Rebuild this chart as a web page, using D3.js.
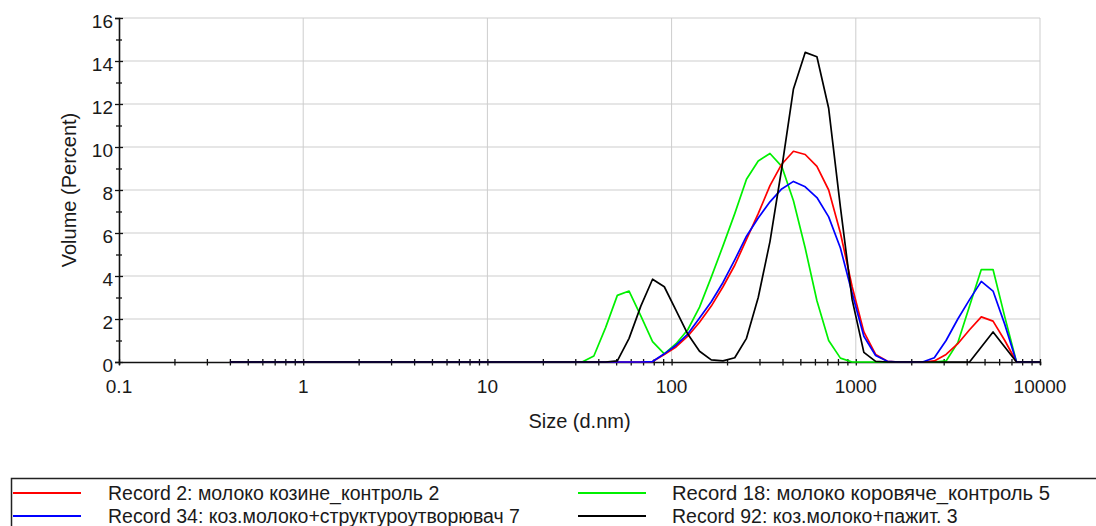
<!DOCTYPE html>
<html>
<head>
<meta charset="utf-8">
<script src="https://cdn.jsdelivr.net/npm/d3@7/dist/d3.min.js"></script>
<style>
  html, body { margin: 0; padding: 0; background: #ffffff; }
  svg { display: block; }
  text { font-family: "Liberation Sans", Arial, sans-serif; fill: #1a1a1a; }
</style>
</head>
<body>
<svg id="chart" width="1096" height="526"></svg>
<script>
// Size classes (d.nm) of the size distribution
const sizes = [
  0.4000, 0.4632, 0.5365, 0.6213, 0.7195, 0.8332, 0.9649, 1.117, 1.294, 1.499,
  1.736, 2.010, 2.328, 2.696, 3.122, 3.615, 4.187, 4.849, 5.615, 6.503,
  7.531, 8.721, 10.10, 11.70, 13.54, 15.69, 18.17, 21.04, 24.36, 28.21,
  32.67, 37.84, 43.82, 50.75, 58.77, 68.06, 78.82, 91.28, 105.7, 122.4,
  141.8, 164.2, 190.1, 220.2, 255.0, 295.3, 342.0, 396.1, 458.7, 531.2,
  615.1, 712.4, 825.0, 955.4, 1106, 1281, 1484, 1718, 1990, 2305,
  2669, 3091, 3580, 4145, 4801, 5560, 6439, 7456, 8635, 10000
];

// Volume (%) per size class
const record2 = [
  0, 0, 0, 0, 0, 0, 0, 0, 0, 0,
  0, 0, 0, 0, 0, 0, 0, 0, 0, 0,
  0, 0, 0, 0, 0, 0, 0, 0, 0, 0,
  0, 0, 0, 0, 0, 0, 0.02, 0.35, 0.7, 1.2,
  1.85, 2.6, 3.5, 4.5, 5.7, 6.9, 8.2, 9.2, 9.8, 9.65,
  9.1, 8.0, 6.0, 3.5, 1.4, 0.35, 0.03, 0, 0, 0,
  0.05, 0.35, 0.85, 1.5, 2.1, 1.9, 1.0, 0, 0, 0
];
const record18 = [
  0, 0, 0, 0, 0, 0, 0, 0, 0, 0,
  0, 0, 0, 0, 0, 0, 0, 0, 0, 0,
  0, 0, 0, 0, 0, 0, 0, 0, 0, 0,
  0, 0.28, 1.6, 3.1, 3.3, 2.15, 0.95, 0.38, 0.85, 1.5,
  2.55, 3.95, 5.4, 6.9, 8.5, 9.35, 9.7, 9.1, 7.5, 5.3,
  2.85, 1.0, 0.18, 0, 0, 0, 0, 0, 0, 0,
  0, 0.05, 0.9, 2.6, 4.3, 4.3, 2.1, 0, 0, 0
];
const record34 = [
  0, 0, 0, 0, 0, 0, 0, 0, 0, 0,
  0, 0, 0, 0, 0, 0, 0, 0, 0, 0,
  0, 0, 0, 0, 0, 0, 0, 0, 0, 0,
  0, 0, 0, 0, 0, 0, 0.02, 0.38, 0.78, 1.3,
  2.05, 2.8, 3.7, 4.75, 5.85, 6.7, 7.45, 8.05, 8.4, 8.15,
  7.65, 6.75, 5.3, 3.2, 1.2, 0.3, 0.03, 0, 0, 0,
  0.2, 1.0, 2.0, 2.9, 3.75, 3.3, 1.75, 0, 0, 0
];
const record92 = [
  0, 0, 0, 0, 0, 0, 0, 0, 0, 0,
  0, 0, 0, 0, 0, 0, 0, 0, 0, 0,
  0, 0, 0, 0, 0, 0, 0, 0, 0, 0,
  0, 0, 0, 0.05, 1.1, 2.6, 3.85, 3.5, 2.4, 1.3,
  0.5, 0.1, 0.05, 0.2, 1.1, 3.0, 5.6, 9.0, 12.7, 14.4,
  14.2, 11.8, 7.2, 2.9, 0.45, 0.03, 0, 0, 0, 0,
  0, 0, 0, 0, 0.7, 1.4, 0.7, 0, 0, 0
];

const seriesNames = [
  "Record 2: молоко козине_контроль 2",
  "Record 18: молоко коровяче_контроль 5",
  "Record 34: коз.молоко+структуроутворювач 7",
  "Record 92: коз.молоко+пажит. 3"
];
const seriesColors = ["#ff0000", "#00f000", "#0000ff", "#000000"];
const seriesValues = [record2, record18, record34, record92];

const xTickValues = [0.1, 1, 10, 100, 1000, 10000];
const xTickLabels = ["0.1", "1", "10", "100", "1000", "10000"];
const yTickValues = [0, 2, 4, 6, 8, 10, 12, 14, 16];
const yMinorValues = [1, 3, 5, 7, 9, 11, 13, 15];

const svg = d3.select("#chart");
const x = d3.scaleLog().domain([0.1, 10000]).range([119, 1040]);
const y = d3.scaleLinear().domain([0, 16]).range([362, 18]);

// grid
const grid = svg.append("g");
grid.selectAll("line.h").data(yTickValues.filter(v => v > 0)).join("line")
  .attr("x1", x(0.1)).attr("x2", x(10000))
  .attr("y1", d => y(d)).attr("y2", d => y(d))
  .attr("stroke", "#cdcdcd").attr("stroke-width", 1);
grid.selectAll("line.v").data(xTickValues.slice(1)).join("line")
  .attr("x1", d => x(d)).attr("x2", d => x(d))
  .attr("y1", y(0)).attr("y2", y(16))
  .attr("stroke", "#cdcdcd").attr("stroke-width", 1);

// x axis (minor ticks crossing the axis line)
const xAxis = svg.append("g").attr("transform", `translate(0,${y(0)})`)
  .call(d3.axisBottom(x).tickValues(x.ticks()).tickSize(3).tickFormat(""));
xAxis.select(".domain").attr("stroke", "#111").attr("stroke-width", 1.6);
xAxis.selectAll(".tick line").attr("y1", -3).attr("y2", 3.5).attr("stroke", "#111").attr("stroke-width", 1.3);
svg.append("g").selectAll("text").data(xTickValues).join("text")
  .attr("x", d => x(d)).attr("y", y(0) + 31)
  .attr("text-anchor", "middle").style("font-size", "19px")
  .text((d, i) => xTickLabels[i]);

// y axis
const yAxis = svg.append("g").attr("transform", `translate(${x(0.1)},0)`)
  .call(d3.axisLeft(y).tickValues(yTickValues).tickSize(4).tickFormat(""));
yAxis.select(".domain").attr("stroke", "#111").attr("stroke-width", 1.6);
yAxis.selectAll(".tick line").attr("x1", -4).attr("x2", 4).attr("stroke", "#111").attr("stroke-width", 1.3);
svg.append("g").attr("transform", `translate(${x(0.1)},0)`)
  .call(d3.axisLeft(y).tickValues(yMinorValues).tickSize(3).tickFormat(""))
  .call(g => g.select(".domain").remove())
  .selectAll(".tick line").attr("x1", -3).attr("x2", 3).attr("stroke", "#111").attr("stroke-width", 1.3);
svg.append("g").selectAll("text").data(yTickValues).join("text")
  .attr("x", x(0.1) - 6).attr("y", d => y(d) + 10)
  .attr("text-anchor", "end").style("font-size", "19px")
  .text(d => d);

// axis titles
svg.append("text")
  .attr("transform", `translate(76,${(y(0) + y(16)) / 2}) rotate(-90)`)
  .attr("text-anchor", "middle").style("font-size", "20px")
  .text("Volume (Percent)");
svg.append("text")
  .attr("x", (x(0.1) + x(10000)) / 2).attr("y", 428)
  .attr("text-anchor", "middle").style("font-size", "20px")
  .text("Size (d.nm)");

// distribution curves
const line = d3.line().x((d, i) => x(sizes[i])).y(d => y(d));
const drawOrder = [1, 0, 2, 3];
svg.append("g").selectAll("path").data(drawOrder).join("path")
  .attr("d", k => line(seriesValues[k]))
  .attr("fill", "none")
  .attr("stroke", k => seriesColors[k])
  .attr("stroke-width", 1.7)
  .attr("stroke-linejoin", "round");

// legend
const legend = svg.append("g");
legend.append("rect")
  .attr("x", 11.5).attr("y", 478.5).attr("width", 1200).attr("height", 120)
  .attr("fill", "none").attr("stroke", "#222").attr("stroke-width", 1.5);
const legendPos = [
  { lx: 13, tx: 108, y: 493, w: null },
  { lx: 578, tx: 672, y: 493, w: 378 },
  { lx: 13, tx: 108, y: 516, w: null },
  { lx: 578, tx: 672, y: 516, w: null }
];
legend.selectAll("line").data(legendPos).join("line")
  .attr("x1", d => d.lx).attr("x2", d => d.lx + 68)
  .attr("y1", d => d.y).attr("y2", d => d.y)
  .attr("stroke", (d, i) => seriesColors[i]).attr("stroke-width", 2);
legend.selectAll("text").data(legendPos).join("text")
  .attr("x", d => d.tx).attr("y", d => d.y + 7)
  .style("font-size", "19.5px")
  .each(function (d) {
    if (d.w) d3.select(this).attr("textLength", d.w).attr("lengthAdjust", "spacingAndGlyphs");
  })
  .text((d, i) => seriesNames[i]);
</script>
</body>
</html>
